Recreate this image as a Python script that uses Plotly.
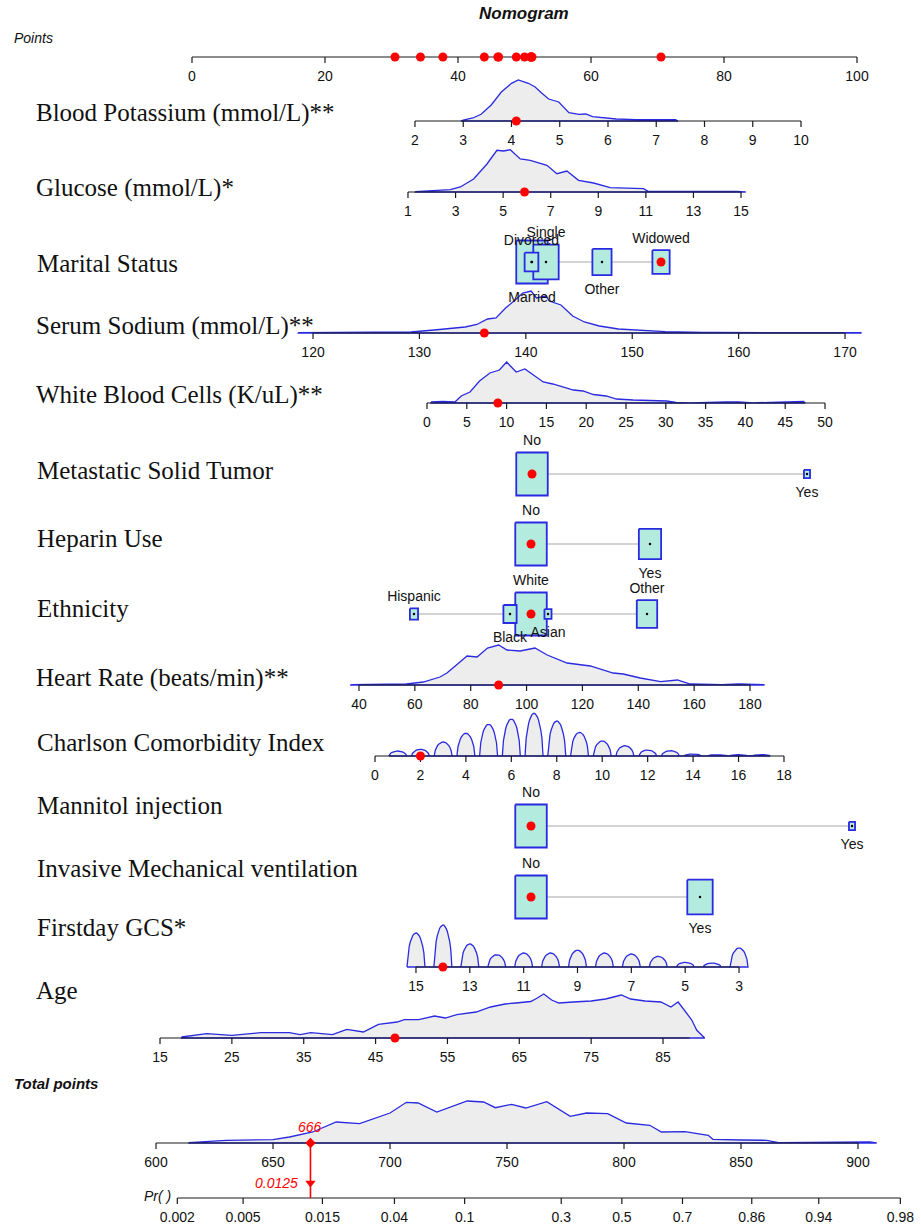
import numpy as np
import plotly.graph_objects as go

# ======================= DATA =======================
points_ticks = [0, 20, 40, 60, 80, 100]

# --- continuous predictors: ticks, calibration (value -> points), density (value, relative height), patient value
potassium_ticks = [2, 3, 4, 5, 6, 7, 8, 9, 10]
potassium_cal = [2, 10]
potassium_cal_pts = [33.53, 91.58]
potassium_dens_x = [2.95, 3.0, 3.2, 3.37, 3.58, 3.79, 4.0, 4.14, 4.35, 4.49, 4.63, 4.77, 4.98, 5.19, 5.4, 5.54, 5.68, 6.17, 6.59, 7.4, 7.45]
potassium_dens_h = [0, 1, 3, 6.7, 16, 29, 37.7, 41, 37.7, 34, 27.7, 22, 19, 8.3, 6.7, 7, 4.3, 2, 1.3, 1.3, 0]
potassium_value = 4.1

glucose_ticks = [1, 3, 5, 7, 9, 11, 13, 15]
glucose_cal = [1, 15]
glucose_cal_pts = [32.48, 82.56]
glucose_dens_x = [1.3, 1.66, 2.78, 3.2, 3.76, 4.32, 4.74, 5.02, 5.3, 5.72, 6.14, 6.84, 7.26, 7.68, 8.17, 8.8, 9.5, 10.9, 11.1, 14.8, 15.2]
glucose_dens_h = [0.3, 0.7, 2.3, 5, 13, 28, 41.7, 41, 42.3, 33, 31.7, 26.7, 18.3, 21, 11.7, 9, 4.3, 3.3, 0.7, 0.7, 0]
glucose_value = 5.9

sodium_ticks = [120, 130, 140, 150, 160, 170]
sodium_cal = [120, 170]
sodium_cal_pts = [18.20, 98.20]
sodium_dens_x = [118.6, 126, 129.2, 131.4, 133.2, 134.3, 135.4, 136.4, 137.2, 138.1, 139.0, 139.7, 140.5, 141.0, 141.9, 142.2, 143.3, 144.4, 145.5, 146.9, 148.7, 151.3, 153.1, 156.7, 157.8, 171.5]
sodium_dens_h = [0.3, 0.3, 1, 3, 5, 6, 8.5, 14, 15, 25, 33, 40, 42, 35, 37, 32, 28, 17, 11, 7, 4, 2, 1.3, 0.7, 0.5, 0.3]
sodium_value = 136.1

wbc_ticks = [0, 5, 10, 15, 20, 25, 30, 35, 40, 45, 50]
wbc_cal = [0, 50]
wbc_cal_pts = [35.34, 95.19]
wbc_dens_x = [0.5, 2, 3.5, 4.3, 5.4, 6.6, 7.9, 9.1, 10, 11.2, 12.3, 13.3, 14.6, 15.8, 17.1, 18.4, 19.6, 20.9, 22.5, 23.8, 25.9, 30.1, 31.3, 33, 37.6, 39.1, 41, 45.8, 47.3, 47.5]
wbc_dens_h = [1, 1.5, 1, 7, 11, 22, 30, 33, 41, 31, 34, 28, 21, 19, 16, 13, 12, 8.5, 7, 4, 3, 2, 0.5, 0.2, 1, 1, 0.2, 1.5, 1.5, 0]
wbc_value = 8.9

hr_ticks = [40, 60, 80, 100, 120, 140, 160, 180]
hr_cal = [40, 180]
hr_cal_pts = [25.11, 83.91]
hr_dens_x = [37, 55, 57, 63, 65.4, 69, 71.5, 78.7, 82.3, 86, 90, 93, 97.7, 103, 107.4, 114.5, 122.8, 131, 134.6, 140.7, 148, 154, 158.6, 164.7, 170, 176, 180, 185]
hr_dens_h = [0.3, 0.3, 1, 3, 5, 8, 12, 29, 28, 37, 40, 35, 34, 37, 30, 22, 19, 12, 11, 7, 3.3, 5, 1, 0.5, 0.3, 1, 1, 0.3]
hr_value = 90

cci_ticks = [0, 2, 4, 6, 8, 10, 12, 14, 16, 18]
cci_cal = [0, 18]
cci_cal_pts = [27.52, 89.02]
cci_levels = [1, 2, 3, 4, 5, 6, 7, 8, 9, 10, 11, 12, 13, 14, 15, 16, 17]
cci_dens_h = [5, 6.7, 14, 22.7, 31.7, 37, 42.7, 35, 23.7, 15, 10.3, 6, 5.3, 2, 1.3, 1.3, 1.3]
cci_value = 2

gcs_ticks = [15, 13, 11, 9, 7, 5, 3]
gcs_cal = [15, 3]
gcs_cal_pts = [33.68, 82.26]
gcs_levels = [15, 14, 13, 12, 11, 10, 9, 8, 7, 6, 5, 4, 3]
gcs_dens_h = [34, 42, 23, 12.3, 14, 14, 16.7, 14, 13, 10.7, 4.7, 4, 19]
gcs_value = 14

age_ticks = [15, 25, 35, 45, 55, 65, 75, 85]
age_cal = [15, 85]
age_cal_pts = [-4.81, 70.83]
age_axis_end = 88.7
age_dens_x = [18, 21.5, 25, 29, 33, 34.5, 36, 39, 41, 43.3, 45.4, 48, 49, 51, 53.2, 54.7, 56.3, 59, 61, 63, 64.5, 66.6, 67.5, 68.4, 69.5, 70.5, 72.5, 75, 77, 79.2, 80.5, 82.5, 84.7, 86.1, 87.1, 88, 89, 89.7, 90.8]
age_dens_h = [1, 4.3, 2.7, 5.3, 5.3, 3.3, 5.3, 3.3, 8.7, 6, 13.7, 16, 18.3, 18.3, 22, 20, 23.3, 26, 31, 34, 35, 36.5, 40, 44, 38, 35, 36, 37, 39, 43, 39, 37, 36, 31, 36, 28, 18, 7.7, 0.3]
age_value = 47.7

# --- categorical predictors: levels, points, relative frequency, label side, patient level
marital_levels = ["Married", "Divorced", "Single", "Other", "Widowed"]
marital_pts = [51.13, 51.05, 53.23, 61.65, 70.53]
marital_freq = [1.0, 0.19, 0.65, 0.37, 0.30]
marital_side = ["below", "above", "above", "below", "above"]
marital_value = "Widowed"

metastatic_levels = ["No", "Yes"]
metastatic_pts = [51.13, 92.48]
metastatic_freq = [1.0, 0.037]
metastatic_side = ["above", "below"]
metastatic_value = "No"

heparin_levels = ["No", "Yes"]
heparin_pts = [50.98, 68.87]
heparin_freq = [1.0, 0.50]
heparin_side = ["above", "below"]
heparin_value = "No"

ethnicity_levels = ["White", "Black", "Hispanic", "Asian", "Other"]
ethnicity_pts = [50.98, 47.82, 33.38, 53.53, 68.42]
ethnicity_freq = [1.0, 0.176, 0.067, 0.05, 0.42]
ethnicity_side = ["above", "below", "above", "below", "above"]
ethnicity_value = "White"

mannitol_levels = ["No", "Yes"]
mannitol_pts = [50.98, 99.25]
mannitol_freq = [1.0, 0.037]
mannitol_side = ["above", "below"]
mannitol_value = "No"

imv_levels = ["No", "Yes"]
imv_pts = [50.98, 76.39]
imv_freq = [1.0, 0.65]
imv_side = ["above", "below"]
imv_value = "No"

# --- total points and probability
total_ticks = [600, 650, 700, 750, 800, 850, 900]
total_cal = [600, 900]
total_cal_pts = [-5.41, 100.15]
total_dens_x = [614, 630, 650, 657, 667, 677, 687, 700, 707, 712, 720, 733, 740, 745, 752, 758, 767, 777, 784, 793, 801, 811, 816, 826, 836, 838, 850, 861, 866, 874, 899, 905, 908]
total_dens_h = [0.3, 2.7, 3.3, 6, 11, 21, 19.3, 30, 40.7, 40, 31, 42, 41, 35.3, 38.7, 35, 41.3, 26.7, 30, 29.3, 20, 17.7, 11, 11.3, 7.7, 3.7, 3, 2.7, 0.3, 0.3, 1, 1, 0]
total_value = 666
prob_value = 0.0125
pr_ticks = [0.002, 0.005, 0.015, 0.04, 0.1, 0.3, 0.5, 0.7, 0.86, 0.94, 0.98]
pr_tick_labels = ["0.002", "0.005", "0.015", "0.04", "0.1", "0.3", "0.5", "0.7", "0.86", "0.94", "0.98"]
lp_intercept = -26.13
lp_slope = 0.0327

# ======================= LAYOUT / STYLE =======================
W, H = 921, 1230
PX0, PXPT = 192.0, 6.65          # pixel of 0 points, pixels per point
BLUE = "#2A2AE0"
GREY = "#EDEDED"
MINT = "#B3EBDF"
RED = "#FF0000"
SERIF = "Liberation Serif, Times New Roman, serif"
SANS = "Liberation Sans, Arial, sans-serif"
TICK_LEN = 6
LABEL_DY = 20
BOX_W, BOX_H = 31.5, 43.0
TICK_FONT = 14
CAT_FONT = 14
VAR_FONT = 25


def lx(px):
    return (px - PX0) / PXPT


def cal(v, c, p):
    v = np.asarray(v, dtype=float)
    return p[0] + (v - c[0]) * (p[1] - p[0]) / (c[1] - c[0])


fig = go.Figure()
axis_x, axis_y = [], []
tick_tx, tick_ty, tick_tt = [], [], []
red_x, red_y = [], []
top_red = []
annotations = []


def add_axis(y, vals, texts, f, ext=None):
    xs = f(vals)
    e = f(ext) if ext is not None else xs
    lo, hi = float(np.min(e)), float(np.max(e))
    axis_x.extend([lo, hi, None]); axis_y.extend([y, y, None])
    for xv, t in zip(xs, texts):
        axis_x.extend([float(xv), float(xv), None]); axis_y.extend([y, y + TICK_LEN, None])
        tick_tx.append(float(xv)); tick_ty.append(y + LABEL_DY); tick_tt.append(str(t))


def add_density(y, xs, hs):
    xs = list(map(float, xs))
    px = xs + [xs[-1], xs[0], xs[0]]
    py = [y - h for h in hs] + [y, y, y - hs[0]]
    fig.add_trace(go.Scatter(x=px, y=py, mode="lines", fill="toself", fillcolor=GREY,
                             line=dict(color=BLUE, width=1.3), hoverinfo="skip"))


def bump_density(levels, hs, f, halfwidth_px=9.0, n=17):
    xs, ys = [], []
    order = np.argsort(f(levels))
    lv = np.asarray(levels, float)[order]
    hv = np.asarray(hs, float)[order]
    for k, h in zip(lv, hv):
        c = float(f([k])[0])
        u = np.linspace(-1, 1, n)
        xs.extend(list(c + u * halfwidth_px / PXPT))
        ys.extend(list(h * (1 - u ** 2) ** 0.6))
    return xs, ys


def var_label(text, y, xpx=35):
    annotations.append(dict(x=lx(xpx), y=y, text=text, showarrow=False, xanchor="left", yanchor="middle",
                            font=dict(family=SERIF, size=VAR_FONT, color="#111")))


# ---------------- Points axis ----------------
PTS_Y = 57
add_axis(PTS_Y, points_ticks, points_ticks, lambda v: np.asarray(v, float))

# ---------------- continuous rows ----------------
cont_rows = [
    ("Blood Potassium (mmol/L)**", 113, 121, potassium_ticks, potassium_cal, potassium_cal_pts, potassium_dens_x, potassium_dens_h, potassium_value, None),
    ("Glucose (mmol/L)*", 188, 192, glucose_ticks, glucose_cal, glucose_cal_pts, glucose_dens_x, glucose_dens_h, glucose_value, None),
    ("Serum Sodium (mmol/L)**", 326, 333, sodium_ticks, sodium_cal, sodium_cal_pts, sodium_dens_x, sodium_dens_h, sodium_value, None),
    ("White Blood Cells (K/uL)**", 395, 403, wbc_ticks, wbc_cal, wbc_cal_pts, wbc_dens_x, wbc_dens_h, wbc_value, None),
    ("Heart Rate (beats/min)**", 678, 685, hr_ticks, hr_cal, hr_cal_pts, hr_dens_x, hr_dens_h, hr_value, None),
    ("Age", 990, 1038, age_ticks, age_cal, age_cal_pts, age_dens_x, age_dens_h, age_value, [age_ticks[0], age_axis_end]),
]
for name, ly, ay, ticks, c, p, dx, dh, val, ext in cont_rows:
    f = (lambda c, p: (lambda v: cal(v, c, p)))(c, p)
    add_density(ay, f(dx), dh)
    add_axis(ay, ticks, ticks, f, ext)
    vx = float(f([val])[0])
    red_x.append(vx); red_y.append(ay)
    top_red.append(vx)
    var_label(name, ly, 34)

bump_rows = [
    ("Charlson Comorbidity Index", 742, 756, cci_ticks, cci_cal, cci_cal_pts, cci_levels, cci_dens_h, cci_value),
    ("Firstday GCS*", 927, 967, gcs_ticks, gcs_cal, gcs_cal_pts, gcs_levels, gcs_dens_h, gcs_value),
]
for name, ly, ay, ticks, c, p, lv, hs, val in bump_rows:
    f = (lambda c, p: (lambda v: cal(v, c, p)))(c, p)
    bx, by = bump_density(lv, hs, f)
    add_density(ay, bx, by)
    add_axis(ay, ticks, ticks, f)
    vx = float(f([val])[0])
    red_x.append(vx); red_y.append(ay)
    top_red.append(vx)
    var_label(name, ly, 35)

# ---------------- categorical rows ----------------
cat_rows = [
    ("Marital Status", 263, 262, marital_levels, marital_pts, marital_freq, marital_side, marital_value),
    ("Metastatic Solid Tumor", 470, 474, metastatic_levels, metastatic_pts, metastatic_freq, metastatic_side, metastatic_value),
    ("Heparin Use", 538, 544, heparin_levels, heparin_pts, heparin_freq, heparin_side, heparin_value),
    ("Ethnicity", 608, 614, ethnicity_levels, ethnicity_pts, ethnicity_freq, ethnicity_side, ethnicity_value),
    ("Mannitol injection", 805, 826, mannitol_levels, mannitol_pts, mannitol_freq, mannitol_side, mannitol_value),
    ("Invasive Mechanical ventilation", 868, 897, imv_levels, imv_pts, imv_freq, imv_side, imv_value),
]
cat_tx, cat_ty, cat_tt = [], [], []
dot_x, dot_y = [], []
for name, ly, by, levels, pts, freq, side, val in cat_rows:
    fig.add_trace(go.Scatter(x=[min(pts), max(pts)], y=[by, by], mode="lines",
                             line=dict(color="#C4C4C4", width=1.5), hoverinfo="skip"))
    order = np.argsort(-np.asarray(freq))
    for i in order:
        w = BOX_W * np.sqrt(freq[i]) / PXPT
        h = BOX_H * np.sqrt(freq[i])
        c = pts[i]
        fig.add_trace(go.Scatter(x=[c - w / 2, c + w / 2, c + w / 2, c - w / 2, c - w / 2],
                                 y=[by - h / 2, by - h / 2, by + h / 2, by + h / 2, by - h / 2],
                                 mode="lines", fill="toself", fillcolor=MINT,
                                 line=dict(color=BLUE, width=1.8), hoverinfo="skip"))
    for i, lev in enumerate(levels):
        h = BOX_H * np.sqrt(freq[i])
        cat_tx.append(pts[i])
        cat_ty.append(by - h / 2 - 11 if side[i] == "above" else by + h / 2 + 15)
        cat_tt.append(lev)
        if lev == val:
            red_x.append(pts[i]); red_y.append(by)
            top_red.append(pts[i])
        else:
            dot_x.append(pts[i]); dot_y.append(by)
    var_label(name, ly, 35)

# ---------------- total points & probability ----------------
TOT_Y, PR_Y = 1143, 1198
ftot = lambda v: cal(v, total_cal, total_cal_pts)
add_density(TOT_Y, ftot(total_dens_x), total_dens_h)
add_axis(TOT_Y, total_ticks, total_ticks, ftot)


def pr_to_pts(p):
    p = np.asarray(p, float)
    t = (np.log(p / (1 - p)) - lp_intercept) / lp_slope
    return ftot(t)


add_axis(PR_Y, pr_ticks, pr_tick_labels, pr_to_pts)

# ---------------- draw axes, texts, markers ----------------
fig.add_trace(go.Scatter(x=axis_x, y=axis_y, mode="lines", line=dict(color="#1A1A1A", width=1.2), hoverinfo="skip"))
fig.add_trace(go.Scatter(x=tick_tx, y=tick_ty, mode="text", text=tick_tt, textposition="middle center",
                         textfont=dict(family=SANS, size=TICK_FONT, color="#111"), hoverinfo="skip", cliponaxis=False))
fig.add_trace(go.Scatter(x=cat_tx, y=cat_ty, mode="text", text=cat_tt, textposition="middle center",
                         textfont=dict(family=SANS, size=CAT_FONT, color="#111"), hoverinfo="skip", cliponaxis=False))
fig.add_trace(go.Scatter(x=dot_x, y=dot_y, mode="markers", marker=dict(color="black", size=2.5), hoverinfo="skip"))
fig.add_trace(go.Scatter(x=red_x, y=red_y, mode="markers", marker=dict(color=RED, size=9, symbol="circle"), hoverinfo="skip"))
fig.add_trace(go.Scatter(x=top_red, y=[PTS_Y] * len(top_red), mode="markers",
                         marker=dict(color=RED, size=9, symbol="circle"), hoverinfo="skip"))

tx = float(ftot([total_value])[0])
fig.add_trace(go.Scatter(x=[tx, tx], y=[TOT_Y, PR_Y], mode="lines", line=dict(color=RED, width=1.6), hoverinfo="skip"))
fig.add_trace(go.Scatter(x=[tx], y=[TOT_Y], mode="markers", marker=dict(color=RED, size=8, symbol="diamond"), hoverinfo="skip"))
fig.add_trace(go.Scatter(x=[tx], y=[1183], mode="markers", marker=dict(color=RED, size=9, symbol="triangle-down"), hoverinfo="skip"))
annotations.append(dict(x=tx, y=1127, text="<i>%d</i>" % total_value, showarrow=False, xanchor="center", yanchor="middle",
                        font=dict(family=SANS, size=14, color=RED)))
annotations.append(dict(x=tx - 10 / PXPT, y=1183, text="<i>%s</i>" % prob_value, showarrow=False, xanchor="right",
                        yanchor="middle", font=dict(family=SANS, size=14, color=RED)))

annotations.append(dict(x=lx(524), y=13, text="<b><i>Nomogram</i></b>", showarrow=False, xanchor="center", yanchor="middle",
                        font=dict(family=SANS, size=17, color="#111")))
annotations.append(dict(x=lx(12), y=38, text="<i>Points</i>", showarrow=False, xanchor="left", yanchor="middle",
                        font=dict(family=SANS, size=14, color="#111")))
annotations.append(dict(x=lx(12), y=1083, text="<b><i>Total points</i></b>", showarrow=False, xanchor="left", yanchor="middle",
                        font=dict(family=SANS, size=15, color="#111")))
annotations.append(dict(x=lx(173), y=1196, text="<i>Pr( )</i>", showarrow=False, xanchor="right", yanchor="middle",
                        font=dict(family=SANS, size=14, color="#111")))

fig.update_layout(
    width=W, height=H, autosize=False, showlegend=False,
    margin=dict(l=0, r=0, t=0, b=0),
    paper_bgcolor="white", plot_bgcolor="white",
    xaxis=dict(range=[lx(0), lx(W)], visible=False, fixedrange=True),
    yaxis=dict(range=[H, 0], visible=False, fixedrange=True),
    annotations=annotations,
    hovermode=False,
)

fig.write_html("out.html", include_plotlyjs=True, config={"displayModeBar": False},
               post_script="document.body.style.margin='0px';")
